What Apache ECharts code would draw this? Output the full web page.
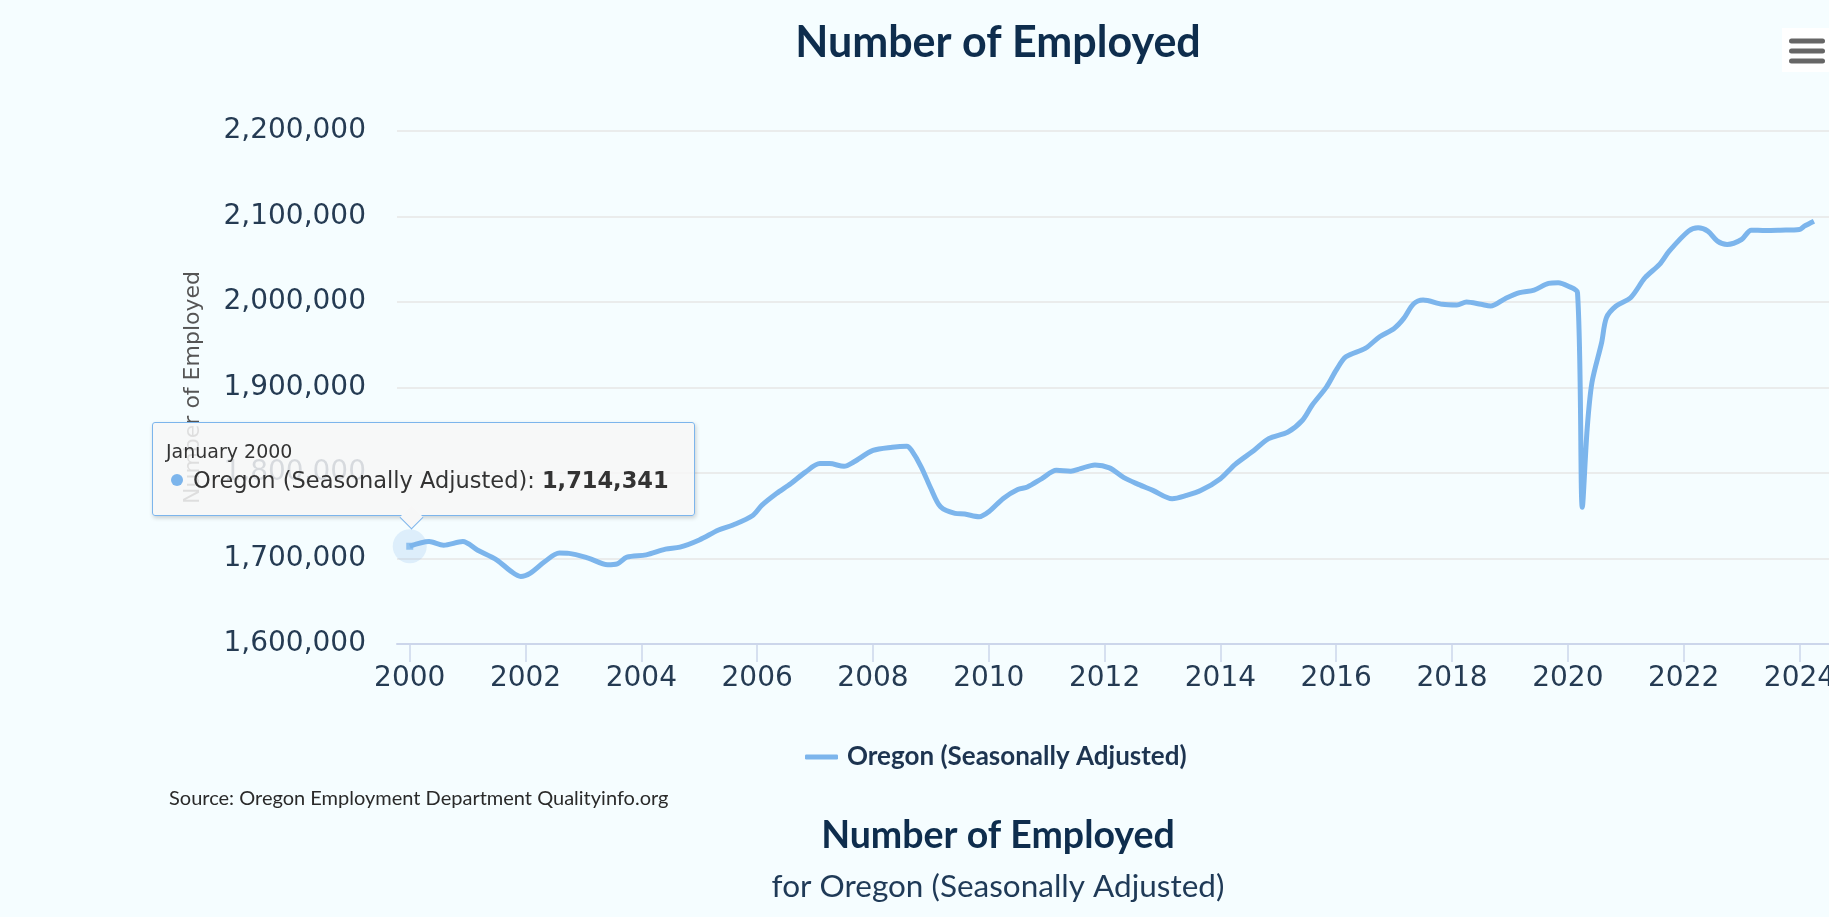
<!DOCTYPE html>
<html>
<head>
<meta charset="utf-8">
<title>Number of Employed</title>
<script src="https://cdn.jsdelivr.net/npm/echarts@6/dist/echarts.min.js"></script>
<style>
  html, body { margin: 0; padding: 0; background: #f5fdff; }
  #chart { width: 1829px; height: 917px; }
</style>
</head>
<body>
<div id="chart"></div>
<script>
// points (roughly every 2-4 months, monthly around the 2020 drop)
const months = [
  '2000-01', '2000-05', '2000-08', '2000-12', '2001-03', '2001-07', '2001-10', '2001-12',
  '2002-02', '2002-05', '2002-08', '2002-10', '2003-02', '2003-06', '2003-08', '2003-10',
  '2004-02', '2004-06', '2004-09', '2005-01', '2005-05', '2005-08', '2005-12', '2006-02',
  '2006-05', '2006-08', '2006-11', '2007-02', '2007-04', '2007-07', '2007-09', '2008-01',
  '2008-05', '2008-08', '2008-09', '2008-11', '2009-01', '2009-03', '2009-06', '2009-08',
  '2009-11', '2010-01', '2010-04', '2010-07', '2010-09', '2010-12', '2011-03', '2011-06',
  '2011-08', '2011-11', '2012-02', '2012-05', '2012-08', '2012-11', '2013-03', '2013-06',
  '2013-09', '2014-01', '2014-04', '2014-08', '2014-11', '2015-03', '2015-06', '2015-08',
  '2015-11', '2016-01', '2016-03', '2016-07', '2016-10', '2017-01', '2017-03', '2017-05',
  '2017-07', '2017-11', '2018-02', '2018-04', '2018-07', '2018-09', '2018-12', '2019-03',
  '2019-06', '2019-09', '2019-11', '2020-01', '2020-03', '2020-04', '2020-05', '2020-06',
  '2020-08', '2020-09', '2020-11', '2021-02', '2021-05', '2021-08', '2021-10', '2022-02',
  '2022-04', '2022-06', '2022-08', '2022-10', '2023-01', '2023-03', '2023-06', '2023-09',
  '2024-01', '2024-02', '2024-04'
];
const employed = [
  1714341, 1719800, 1715600, 1719800, 1710000, 1698500, 1684900, 1679000,
  1683000, 1696500, 1706300, 1706000, 1700500, 1692700, 1693800, 1701600,
  1704300, 1711000, 1713300, 1721700, 1733400, 1739200, 1750000, 1762400,
  1776000, 1787700, 1801000, 1811000, 1811000, 1807800, 1812800, 1826400,
  1830200, 1831400, 1826400, 1807000, 1781900, 1760500, 1752800, 1752000,
  1748800, 1754700, 1770300, 1780700, 1783700, 1793500, 1803100, 1802000,
  1805100, 1809500, 1806000, 1794500, 1786700, 1779700, 1769900, 1773800,
  1779700, 1793400, 1809800, 1826600, 1840200, 1848000, 1861700, 1879300,
  1900800, 1920300, 1935900, 1945700, 1959400, 1969100, 1980800, 1997600,
  2002300, 1997300, 1996500, 2000000, 1997300, 1995300, 2003900, 2010900,
  2014000, 2021800, 2022600, 2018700, 2010900, 1760000, 1851400, 1905900,
  1952500, 1981700, 1995300, 2005000, 2028400, 2044000, 2059500, 2082900,
  2086700, 2082900, 2071200, 2067300, 2073100, 2084000, 2083600, 2084000,
  2084800, 2088700, 2094500
];
const yearTicks = [2000, 2002, 2004, 2006, 2008, 2010, 2012, 2014, 2016, 2018, 2020, 2022, 2024];
const yMin = 1600000;
const yMax = 2200000;
const yStep = 100000;

const seriesName = 'Oregon (Seasonally Adjusted)';
const monthNames = ['January', 'February', 'March', 'April', 'May', 'June', 'July',
  'August', 'September', 'October', 'November', 'December'];

const lineColor = '#7cb5ec';
const labelColor = '#253b53';
const titleColor = '#0e2d4d';

// 'YYYY-MM' -> decimal year for the value axis
const toYear = (s) => {
  const [y, m] = s.split('-').map(Number);
  return y + (m - 1) / 12;
};
const fmt = (v) => Math.round(v).toString().replace(/\B(?=(\d{3})+(?!\d))/g, ',');

const points = months.map((m, i) => [toYear(m), employed[i]]);
const hovered = [points[0]];

const chart = echarts.init(document.getElementById('chart'));

const arrowHtml = '<div style="position:absolute;left:250px;top:86px;width:16px;height:16px;' +
  'background:#f7f7f7;border-right:1px solid ' + lineColor + ';border-bottom:1px solid ' + lineColor + ';' +
  'transform:rotate(45deg);"></div>';

chart.setOption({
  animation: false,
  backgroundColor: '#f5fdff',
  textStyle: { fontFamily: 'DejaVu Sans' },
  grid: { left: 397, right: 0, top: 131, bottom: 273, containLabel: false, outerBoundsMode: 'none' },
  xAxis: {
    type: 'value',
    min: 1999.78,
    max: 2024.51,
    splitLine: { show: false },
    axisLine: { lineStyle: { color: '#ccd6eb', width: 2 } },
    axisTick: { show: true, length: 18, lineStyle: { color: '#ccd6eb', width: 1.5 }, customValues: yearTicks },
    axisLabel: {
      customValues: yearTicks,
      margin: 21,
      fontSize: 28,
      color: labelColor,
      formatter: (v) => String(Math.round(v))
    }
  },
  yAxis: {
    type: 'value',
    min: yMin,
    max: yMax,
    interval: yStep,
    name: 'Number of Employed',
    nameLocation: 'middle',
    nameGap: 193,
    nameTextStyle: { fontSize: 22, color: '#555555' },
    axisLine: { show: false },
    axisTick: { show: false },
    splitLine: { lineStyle: { color: '#e6e6e6', width: 1.5 } },
    axisLabel: { margin: 31, fontSize: 28, color: labelColor, formatter: (v) => fmt(v) }
  },
  legend: {
    data: [{ name: seriesName, icon: 'roundRect' }],
    left: 805,
    top: 744,
    padding: 0,
    itemWidth: 33,
    itemHeight: 5,
    textStyle: { fontFamily: 'Lato', fontWeight: 'bold', fontSize: 26, color: '#1d3450', padding: [0, 0, 0, 4] }
  },
  tooltip: {
    trigger: 'item',
    triggerOn: 'none',
    alwaysShowContent: true,
    transitionDuration: 0,
    position: [152, 422],
    padding: [14, 13, 20, 13],
    backgroundColor: 'rgba(247,247,247,0.85)',
    borderColor: lineColor,
    borderWidth: 1,
    extraCssText: 'width:515px;border-radius:3px;box-shadow:1px 2px 4px rgba(0,0,0,0.18);',
    formatter: (p) => {
      const [y, m] = months[0].split('-').map(Number);
      return '<div style="font-family:DejaVu Sans;font-size:19px;line-height:28px;color:#333">' +
        monthNames[m - 1] + ' ' + y + '</div>' +
        '<div style="font-family:DejaVu Sans;font-size:22.5px;line-height:30px;color:#333;white-space:nowrap">' +
        '<span style="display:inline-block;width:12px;height:12px;border-radius:6px;background:' + lineColor +
        ';margin-left:5px;margin-right:10px;vertical-align:2px"></span>' +
        seriesName + ': <b>' + fmt(p.value[1]) + '</b></div>' + arrowHtml;
    }
  },
  series: [
    {
      name: seriesName,
      type: 'line',
      data: points,
      showSymbol: false,
      symbol: 'none',
      smooth: 0.3,
      color: lineColor,
      lineStyle: { color: lineColor, width: 5 },
      emphasis: { disabled: true },
      z: 3
    },
    {
      name: 'halo',
      type: 'scatter',
      data: hovered,
      symbol: 'circle',
      symbolSize: 34,
      itemStyle: { color: 'rgba(124,181,236,0.25)' },
      emphasis: { disabled: true },
      silent: true,
      z: 4
    },
    {
      name: 'marker',
      type: 'scatter',
      data: hovered,
      symbol: 'rect',
      symbolSize: 7,
      itemStyle: { color: lineColor },
      emphasis: { disabled: true },
      z: 5
    }
  ],
  graphic: [
    {
      type: 'text', x: 998, y: 43,
      style: { text: 'Number of Employed', font: 'bold 43px Lato', fill: titleColor, textAlign: 'center', textVerticalAlign: 'middle' }
    },
    {
      type: 'text', x: 169, y: 799,
      style: { text: 'Source: Oregon Employment Department Qualityinfo.org', font: '20px Lato', fill: '#2a2a2a', textAlign: 'left', textVerticalAlign: 'middle' }
    },
    {
      type: 'text', x: 998, y: 836,
      style: { text: 'Number of Employed', font: 'bold 37.5px Lato', fill: titleColor, textAlign: 'center', textVerticalAlign: 'middle' }
    },
    {
      type: 'text', x: 998, y: 887,
      style: { text: 'for Oregon (Seasonally Adjusted)', font: '31.5px Lato', fill: '#1f3a57', textAlign: 'center', textVerticalAlign: 'middle' }
    },
    {
      type: 'group', left: 1782, top: 28,
      children: [
        { type: 'rect', shape: { x: 0, y: 0, width: 47, height: 44 }, style: { fill: '#ffffff' } },
        { type: 'rect', shape: { x: 7, y: 10.5, width: 36, height: 5, r: 2.5 }, style: { fill: '#666666' } },
        { type: 'rect', shape: { x: 7, y: 20.5, width: 36, height: 5, r: 2.5 }, style: { fill: '#666666' } },
        { type: 'rect', shape: { x: 7, y: 30.5, width: 36, height: 5, r: 2.5 }, style: { fill: '#666666' } }
      ]
    }
  ]
});

chart.dispatchAction({ type: 'showTip', seriesIndex: 2, dataIndex: 0 });
</script>
</body>
</html>
